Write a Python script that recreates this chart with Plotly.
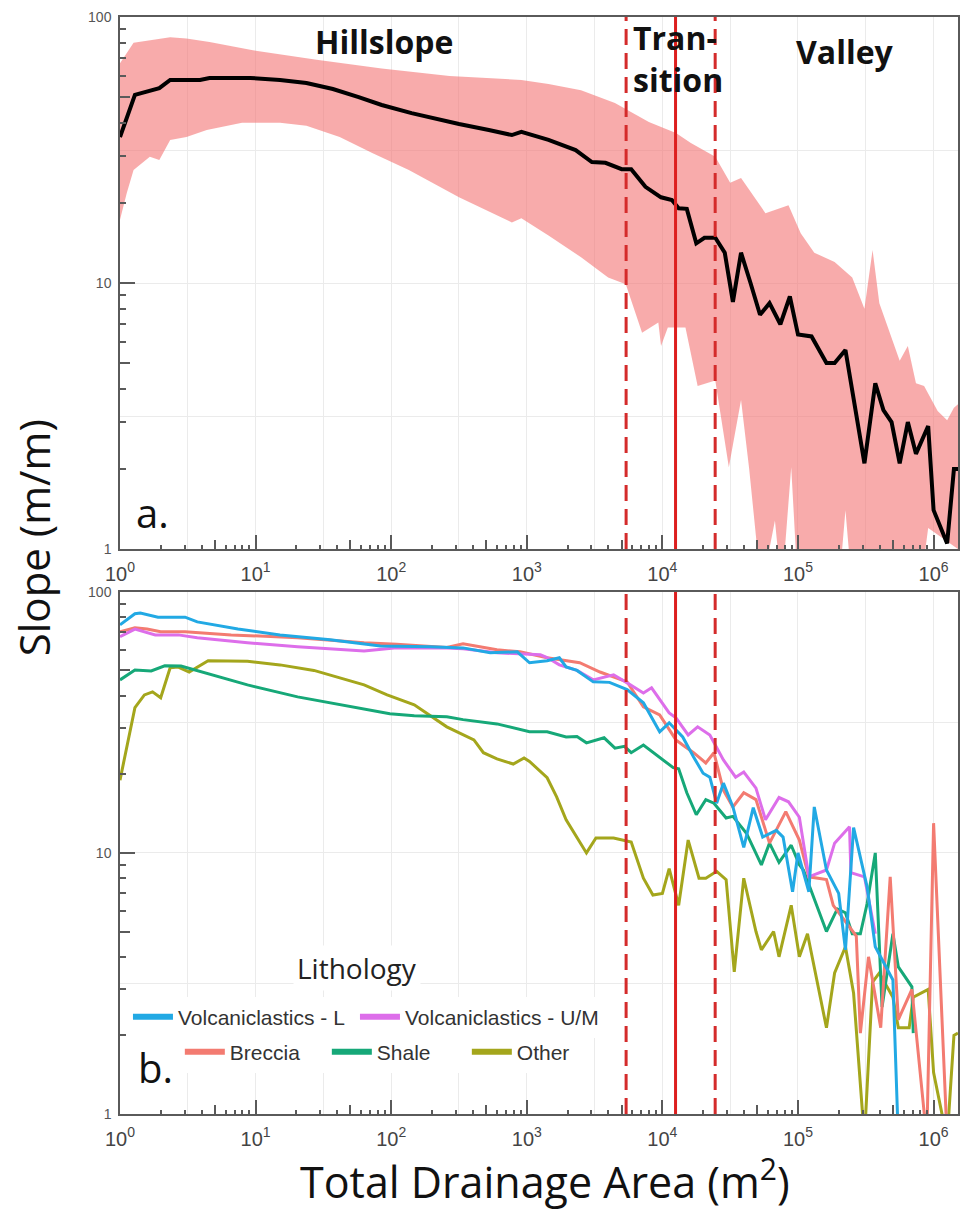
import plotly.graph_objects as go

# ---------------- Panel a: all channels (mean + spread) ----------------
# x values are log10(total drainage area, m^2)
A_MEAN_LOGAREA = [0, 0.11, 0.29, 0.37, 0.59, 0.66, 0.96, 1.18, 1.375, 1.57, 1.76, 1.93, 2.15, 2.43, 2.5,
                  2.72, 2.89, 2.96, 3.16, 3.36, 3.48, 3.58, 3.70, 3.77, 3.875, 3.99, 4.07, 4.12, 4.18, 4.25,
                  4.31, 4.39, 4.46, 4.52, 4.58, 4.65, 4.72, 4.79, 4.87, 4.94, 5.0, 5.10, 5.21, 5.27, 5.35,
                  5.49, 5.57, 5.63, 5.69, 5.75, 5.81, 5.87, 5.96, 6.0, 6.1, 6.15, 6.18]
A_MEAN_SLOPE = [35.4, 51, 54, 58, 58, 59, 59, 58, 56.5, 53.6, 50, 46.7, 43.5, 40.3, 39.6,
                37.6, 36, 37, 34.5, 31.6, 28.5, 28.3, 26.8, 26.8, 23, 21, 20.5, 19.1, 19, 14.1,
                14.8, 14.8, 13.0, 8.5, 13.0, 10, 7.6, 8.4, 7.0, 8.9, 6.4, 6.3, 5.0, 5.0, 5.6,
                2.1, 4.2, 3.33, 3.0, 2.1, 3.0, 2.28, 2.9, 1.4, 1.05, 2.0, 2.0]

A_UPPER_LOGAREA = [0, 0.1, 0.37, 0.49, 0.66, 0.98, 1.45, 1.93, 2.43, 2.96, 3.16, 3.40, 3.65, 3.90, 4.10,
                   4.21, 4.39, 4.50, 4.58, 4.68, 4.76, 4.93, 5.02, 5.12, 5.27, 5.40, 5.49, 5.55, 5.60,
                   5.75, 5.81, 5.87, 5.93, 6.03, 6.10, 6.15, 6.18]
A_UPPER_SLOPE = [67, 80, 84, 83, 80.5, 75, 69, 64, 60, 58, 56, 53, 47.5, 40.3, 36.6,
                 33.6, 29.8, 23.8, 24.8, 21, 18.3, 19.6, 15.4, 13.0, 12.0, 10.5, 8.0, 13.3, 8.4,
                 5.1, 5.8, 4.2, 4.1, 3.3, 3.05, 3.4, 3.5]

A_LOWER_LOGAREA = [0, 0.05, 0.1, 0.22, 0.29, 0.37, 0.49, 0.64, 0.9, 1.18, 1.375, 1.62, 1.86, 2.13, 2.5,
                   2.89, 2.96, 3.16, 3.4, 3.6, 3.73, 3.85, 3.97, 3.99, 4.04, 4.17, 4.26, 4.39, 4.49,
                   4.58, 4.64, 4.73, 4.83, 4.88, 4.95, 5.0, 5.30, 5.35, 5.40, 5.90, 5.96, 6.18]
A_LOWER_SLOPE = [17.3, 21.8, 26.6, 29.8, 29, 34.5, 35.4, 37.6, 40, 40, 39, 35.4, 30.8, 26.6, 21,
                 16.9, 17.5, 15.1, 12.5, 10.5, 9.9, 6.5, 7.1, 5.8, 6.8, 6.8, 4.1, 4.3, 2.03,
                 3.63, 2.0, 0.7, 1.28, 0.7, 2.03, 0.7, 0.7, 1.4, 0.7, 0.7, 1.2, 1.0]

# ---------------- Panel b: by lithology ----------------
VL_LOGAREA = [0, 0.11, 0.15, 0.28, 0.48, 0.57, 0.87, 1.18, 1.55, 1.92, 2.29, 2.53, 2.73, 2.93, 3.02,
              3.15, 3.24, 3.29, 3.37, 3.49, 3.61, 3.74, 3.86, 3.98, 4.05, 4.15, 4.23, 4.30, 4.35,
              4.40, 4.45, 4.52, 4.60, 4.67, 4.74, 4.84, 4.89, 4.96, 5.0, 5.08, 5.12, 5.21, 5.30,
              5.35, 5.41, 5.51, 5.57, 5.70, 5.74]
VL_SLOPE = [74.8, 82.4, 83, 80, 80, 76.7, 72, 68.4, 65.5, 62, 61.6, 61, 58.4, 58.9, 53.5,
            54.5, 55.9, 51.6, 50, 45.2, 45, 42.2, 37.6, 29.1, 31.5, 27.8, 23.3, 20.2, 19.5,
            15.5, 18.5, 15, 10.5, 14.9, 11.5, 12.2, 11.5, 7.1, 10, 7.1, 15, 8.6, 7.0,
            4.25, 12.5, 7.4, 4.37, 3.26, 0.8]

VUM_LOGAREA = [0, 0.11, 0.26, 0.43, 0.57, 0.94, 1.31, 1.8, 2.04, 2.41, 2.53, 2.78, 3.1, 3.15, 3.24,
               3.37, 3.49, 3.64, 3.74, 3.86, 3.92, 4.05, 4.10, 4.19, 4.26, 4.35, 4.45, 4.54, 4.60,
               4.69, 4.76, 4.86, 4.93, 5.01, 5.08, 5.21, 5.27, 5.38, 5.39, 5.49, 5.57]
VUM_SLOPE = [67.3, 72, 68.4, 68.4, 66.7, 63.8, 61.6, 59.4, 61.1, 61, 60.5, 58.4, 57.4, 56, 52.5,
             50, 46, 48.1, 44.8, 41, 42.9, 34.4, 32.9, 28.3, 30.4, 28.3, 22.7, 19.5, 20.4,
             17.7, 13.4, 16.3, 15.7, 13.7, 8.1, 8.6, 10.9, 12.6, 8.4, 8.1, 4.9]

BR_LOGAREA = [0, 0.11, 0.2, 0.3, 0.48, 0.82, 1.31, 1.8, 2.04, 2.41, 2.53, 2.78, 2.95, 3.15, 3.39,
              3.54, 3.74, 3.86, 3.98, 4.10, 4.15, 4.23, 4.32, 4.38, 4.45, 4.52, 4.60, 4.69, 4.79,
              4.91, 5.01, 5.08, 5.21, 5.26, 5.43, 5.46, 5.52, 5.61, 5.68, 5.74, 5.84, 5.95, 6.0, 6.1]
BR_SLOPE = [70.3, 72.8, 72, 70.3, 70.3, 68.4, 66.7, 63.8, 63, 61.2, 63.2, 60, 58.9, 55.9, 53.5,
            49.3, 45.2, 36.3, 33.8, 27.1, 25.9, 24.2, 22.1, 24.2, 17.4, 15, 17, 16, 10.9,
            14.4, 11.2, 8.1, 7.9, 6.3, 4.8, 2.04, 4.0, 2.14, 8.1, 2.3, 3.0, 0.8, 13.0, 0.8]

SH_LOGAREA = [0, 0.11, 0.23, 0.33, 0.45, 0.62, 0.94, 1.31, 1.55, 1.85, 1.99, 2.17, 2.41, 2.53, 2.78,
              3.02, 3.15, 3.29, 3.37, 3.44, 3.57, 3.65, 3.72, 3.77, 3.86, 4.08, 4.12, 4.18, 4.25,
              4.32, 4.38, 4.47, 4.52, 4.62, 4.73, 4.79, 4.86, 4.95, 5.01, 5.04, 5.21, 5.29, 5.35,
              5.40, 5.46, 5.51, 5.57, 5.62, 5.70, 5.74, 5.84, 5.85]
SH_SLOPE = [46, 50.2, 49.8, 52.1, 52, 49, 44, 39.6, 37.6, 35.3, 34.1, 33.5, 33.2, 32.4, 31.2,
            29.1, 29.1, 27.8, 27.9, 26.4, 27.6, 25.2, 25.6, 24.2, 25.9, 21.2, 21, 17, 14,
            16, 15.5, 13.6, 13.8, 11.9, 9.0, 10.9, 9.2, 10.7, 9.0, 8.6, 5.0, 6.1, 5.9,
            4.9, 4.9, 6.4, 10.0, 2.57, 4.9, 3.66, 3.07, 2.04]

OT_LOGAREA = [0, 0.11, 0.18, 0.24, 0.30, 0.37, 0.43, 0.51, 0.65, 0.94, 1.18, 1.43, 1.8, 1.97, 2.17,
              2.41, 2.61, 2.68, 2.78, 2.90, 2.98, 3.02, 3.15, 3.22, 3.29, 3.37, 3.44, 3.51, 3.64,
              3.77, 3.86, 3.93, 4.0, 4.05, 4.12, 4.19, 4.27, 4.32, 4.40, 4.47, 4.53, 4.60, 4.69,
              4.73, 4.82, 4.86, 4.95, 5.01, 5.07, 5.21, 5.27, 5.35, 5.41, 5.49, 5.55, 5.60, 5.70,
              5.74, 5.82, 5.85, 5.96, 6.0, 6.1, 6.15, 6.18]
OT_SLOPE = [19, 36, 40.3, 41.4, 39.3, 51.2, 51.5, 49.3, 54.5, 54.2, 52.5, 50, 44, 40.3, 36.9,
            30.4, 27.1, 24.2, 22.9, 21.9, 23.1, 22.4, 19.4, 16.4, 13.4, 11.5, 10.0, 11.4, 11.4,
            11.0, 8.0, 6.9, 7.0, 8.7, 6.3, 11.2, 8.0, 8.0, 8.5, 7.9, 3.5, 8.0, 5.0,
            4.25, 5.0, 4.0, 6.3, 4.0, 4.9, 2.14, 3.47, 4.37, 2.9, 0.8, 3.2, 3.47, 2.8,
            2.14, 2.14, 2.8, 3.0, 1.44, 0.8, 2.0, 2.04]

# transition zone boundaries (m^2): lower, threshold, upper
ZONE_LOWER = 5400
ZONE_MID = 12500
ZONE_UPPER = 24500

# axis ticks
X_DECADES = [1, 10, 100, 1000, 10000, 100000, 1000000]
X_DECADE_TEXT = ["10<sup>0</sup>", "10<sup>1</sup>", "10<sup>2</sup>", "10<sup>3</sup>",
                 "10<sup>4</sup>", "10<sup>5</sup>", "10<sup>6</sup>"]
X_HALF = [3.162, 31.62, 316.2, 3162, 31623, 316228]
X_MINOR = [2, 3, 4, 6, 7, 8, 9, 20, 30, 40, 60, 70, 80, 90, 200, 300, 400, 600, 700, 800, 900,
           2000, 3000, 4000, 6000, 7000, 8000, 9000, 20000, 30000, 40000, 60000, 70000, 80000, 90000,
           200000, 300000, 400000, 600000, 700000, 800000, 900000]
X_FIVES = [5, 50, 500, 5000, 50000, 500000]
Y_DECADES = [1, 10, 100]
Y_DECADE_TEXT = ["1", "10", "100"]
Y_HALF = [3.162, 31.62]
Y_MINOR = [2, 3, 4, 6, 7, 8, 9, 20, 30, 40, 60, 70, 80, 90]
Y_FIVES = [5, 50]

# name, log-area, slope, colour, legend row, legend entry width (px)
LITHO = [
    ("Volcaniclastics - L", VL_LOGAREA, VL_SLOPE, "#22A9E4", "legend", 172),
    ("Volcaniclastics - U/M", VUM_LOGAREA, VUM_SLOPE, "#DD6EEA", "legend", 205),
    ("Breccia", BR_LOGAREA, BR_SLOPE, "#F37B71", "legend2", 92),
    ("Shale", SH_LOGAREA, SH_SLOPE, "#16A878", "legend2", 85),
    ("Other", OT_LOGAREA, OT_SLOPE, "#A4A61C", "legend2", 60),
]

def to_area(logs):
    return [10 ** v for v in logs]

fig = go.Figure()

# ---- panel a ----
band_x = to_area(A_UPPER_LOGAREA) + to_area(A_LOWER_LOGAREA)[::-1]
band_y = A_UPPER_SLOPE + A_LOWER_SLOPE[::-1]
fig.add_trace(go.Scatter(x=band_x, y=band_y, fill="toself", mode="lines",
                         line=dict(width=0, color="rgba(0,0,0,0)"),
                         fillcolor="rgba(243,110,110,0.58)", showlegend=False,
                         xaxis="x", yaxis="y", hoverinfo="skip"))
fig.add_trace(go.Scatter(x=to_area(A_MEAN_LOGAREA), y=A_MEAN_SLOPE, mode="lines",
                         line=dict(color="black", width=4), showlegend=False,
                         xaxis="x", yaxis="y"))

# ---- panel b ----
draw_order = [4, 3, 2, 1, 0]
for i in draw_order:
    name, lx, sy, col, lg, lw = LITHO[i]
    fig.add_trace(go.Scatter(x=to_area(lx), y=sy, mode="lines", name=name,
                             line=dict(color=col, width=3), showlegend=False,
                             xaxis="x2", yaxis="y2"))
# legend entries (thick swatches)
for name, lx, sy, col, lg, lw in LITHO:
    fig.add_trace(go.Scatter(x=[None], y=[None], mode="lines", name=name,
                             line=dict(color=col, width=6), showlegend=True, legend=lg,
                             legendwidth=lw, xaxis="x2", yaxis="y2"))

# ---- zone boundaries on both panels ----
for xa, ya in (("x", "y"), ("x2", "y2")):
    for v, dash in ((ZONE_LOWER, "16px,8px"), (ZONE_MID, "solid"), (ZONE_UPPER, "16px,8px")):
        fig.add_trace(go.Scatter(x=[v, v], y=[1, 100], mode="lines",
                                 line=dict(color="#DD1F1F" if dash == "solid" else "#D42B2B",
                                           width=3, dash=dash),
                                 showlegend=False, xaxis=xa, yaxis=ya, hoverinfo="skip"))

# overlay subplots: half-decade gridlines and mid-decade tick marks
fig.add_trace(go.Scatter(x=[], y=[], xaxis="x3", yaxis="y3", showlegend=False))
fig.add_trace(go.Scatter(x=[], y=[], xaxis="x4", yaxis="y4", showlegend=False))

XR = [0, 6.18]
YR = [0, 2]
TOP_DOM = [0.515, 1.0]
BOT_DOM = [0.0, 0.476]
AX_LINE = "#5a5a5a"
GRID = "#ebebeb"

def main_x(anchor):
    return dict(type="log", range=XR, anchor=anchor, domain=[0, 1],
                tickmode="array", tickvals=X_DECADES, ticktext=X_DECADE_TEXT,
                ticks="inside", ticklen=14, tickcolor=AX_LINE, tickwidth=1.5,
                showgrid=True, gridcolor=GRID, gridwidth=1,
                showline=True, linecolor=AX_LINE, linewidth=1.5, mirror=True,
                tickfont=dict(family="Arial", size=20, color="#444"),
                ticklabelstandoff=6,
                minor=dict(tickmode="array", tickvals=X_MINOR, ticks="inside", ticklen=4,
                           tickcolor=AX_LINE, tickwidth=1.5, showgrid=False))

def main_y(anchor, dom):
    return dict(type="log", range=YR, anchor=anchor, domain=dom,
                tickmode="array", tickvals=Y_DECADES, ticktext=Y_DECADE_TEXT,
                ticks="inside", ticklen=15, tickcolor=AX_LINE, tickwidth=1.5,
                showgrid=True, gridcolor=GRID, gridwidth=1,
                showline=True, linecolor=AX_LINE, linewidth=1.5, mirror=True,
                tickfont=dict(family="Arial", size=14, color="#555"),
                ticklabelstandoff=4,
                minor=dict(tickmode="array", tickvals=Y_MINOR, ticks="inside", ticklen=6,
                           tickcolor=AX_LINE, tickwidth=1.5, showgrid=False))

def over_x(base, anchor):
    return dict(type="log", range=XR, overlaying=base, anchor=anchor,
                tickmode="array", tickvals=X_HALF, ticks="",
                showticklabels=False, showgrid=True, gridcolor=GRID, gridwidth=1,
                showline=False,
                minor=dict(tickmode="array", tickvals=X_FIVES, ticks="inside", ticklen=9,
                           tickcolor=AX_LINE, tickwidth=1.5, showgrid=False))

def over_y(base, anchor):
    return dict(type="log", range=YR, overlaying=base, anchor=anchor,
                tickmode="array", tickvals=Y_HALF, ticks="",
                showticklabels=False, showgrid=True, gridcolor=GRID, gridwidth=1,
                showline=False,
                minor=dict(tickmode="array", tickvals=Y_FIVES, ticks="inside", ticklen=10,
                           tickcolor=AX_LINE, tickwidth=1.5, showgrid=False))

CAL = "Open Sans"
ann = [
    dict(text="<b>Hillslope</b>", x=0.3155, y=0.978, font=dict(family=CAL, size=32, color="#111"),
         xanchor="center", yanchor="middle"),
    dict(text="<b>Tran-</b><br><b>sition</b>", x=0.6095, y=0.962, align="left",
         font=dict(family=CAL, size=32, color="#111"), xanchor="left", yanchor="middle"),
    dict(text="<b>Valley</b>", x=0.8655, y=0.969, font=dict(family=CAL, size=32, color="#111"),
         xanchor="center", yanchor="middle"),
    dict(text="a.", x=0.039, y=0.548, font=dict(family=CAL, size=40, color="#111"),
         xanchor="center", yanchor="middle", bgcolor="white"),
    dict(text="b.", x=0.042, y=0.042, font=dict(family=CAL, size=40, color="#111"),
         xanchor="center", yanchor="middle", bgcolor="white"),
    dict(text="Lithology", x=0.2833, y=0.1331, font=dict(family=CAL, size=28, color="#222"),
         xanchor="center", yanchor="middle", bgcolor="white", borderpad=3),
    dict(text="Slope (m/m)", x=-0.1036, y=0.525, textangle=-90,
         font=dict(family=CAL, size=42, color="#111"), xanchor="center", yanchor="middle"),
    dict(text="Total Drainage Area (m<sup>2</sup>)", x=0.507, y=-0.060,
         font=dict(family=CAL, size=43, color="#111"), xanchor="center", yanchor="middle"),
]
for a in ann:
    a.update(xref="paper", yref="paper", showarrow=False)

fig.update_layout(
    width=961, height=1215,
    margin=dict(l=120, r=1, t=17, b=101),
    paper_bgcolor="white", plot_bgcolor="white",
    xaxis=main_x("y"), yaxis=main_y("x", TOP_DOM),
    xaxis2=main_x("y2"), yaxis2=main_y("x2", BOT_DOM),
    xaxis3=over_x("x", "y3"), yaxis3=over_y("y", "x3"),
    xaxis4=over_x("x2", "y4"), yaxis4=over_y("y2", "x4"),
    annotations=ann,
    legend=dict(orientation="h", x=0.0095, y=0.0884, xanchor="left", yanchor="middle",
                bgcolor="white", font=dict(family="Arial", size=21, color="#333"),
                entrywidthmode="pixels", itemwidth=40, tracegroupgap=0),
    legend2=dict(orientation="h", x=0.0714, y=0.0565, xanchor="left", yanchor="middle",
                 bgcolor="white", font=dict(family="Arial", size=21, color="#333"),
                 entrywidthmode="pixels", itemwidth=40, tracegroupgap=0),
    showlegend=True,
)

fig.write_html("out.html")
